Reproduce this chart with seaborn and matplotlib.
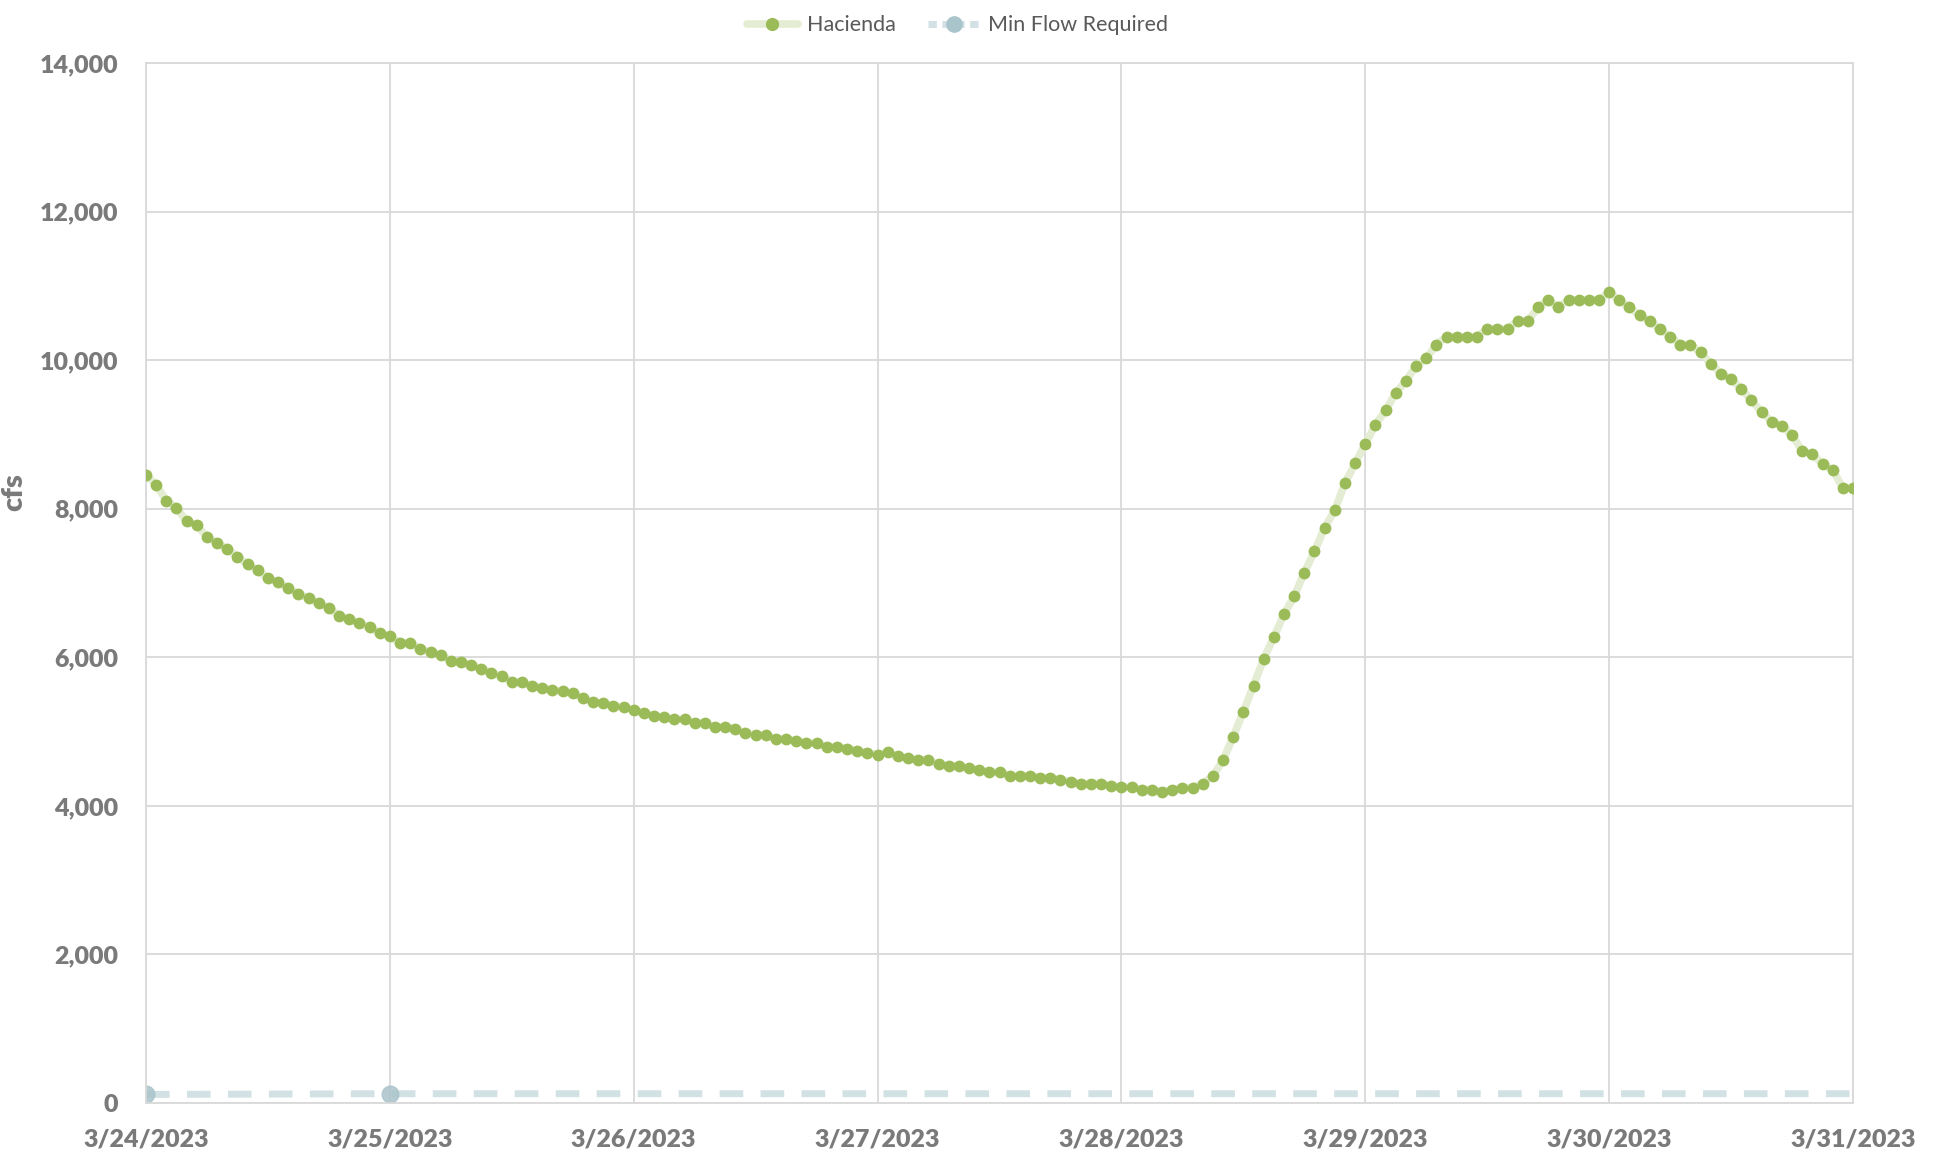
import numpy as np
import pandas as pd
import matplotlib
matplotlib.use("Agg")
import matplotlib.pyplot as plt
import seaborn as sns
from matplotlib.lines import Line2D
from matplotlib.ticker import FuncFormatter

# ---------------- data (hourly readings, cfs) ----------------
day_0324 = [8460, 8320, 8110, 8010, 7830, 7775, 7620, 7540, 7460, 7355, 7250, 7170,
            7065, 7010, 6930, 6855, 6800, 6725, 6665, 6560, 6510, 6460, 6405, 6325]
day_0325 = [6280, 6195, 6190, 6115, 6065, 6035, 5950, 5930, 5900, 5845, 5795, 5745,
            5670, 5670, 5615, 5585, 5560, 5540, 5515, 5450, 5400, 5380, 5350, 5325]
day_0326 = [5295, 5245, 5215, 5190, 5165, 5165, 5115, 5115, 5060, 5065, 5035, 4980,
            4955, 4955, 4900, 4900, 4875, 4845, 4845, 4795, 4795, 4770, 4745, 4715]
day_0327 = [4690, 4720, 4665, 4640, 4615, 4615, 4565, 4535, 4535, 4510, 4485, 4455,
            4455, 4405, 4405, 4405, 4380, 4380, 4350, 4325, 4300, 4300, 4300, 4270]
day_0328 = [4250, 4250, 4220, 4220, 4190, 4215, 4245, 4245, 4300, 4400, 4615, 4930,
            5270, 5615, 5980, 6270, 6580, 6820, 7140, 7425, 7745, 7980, 8345, 8610]
day_0329 = [8870, 9130, 9325, 9560, 9720, 9925, 10025, 10210, 10315, 10315, 10315, 10315,
            10420, 10420, 10420, 10525, 10525, 10710, 10810, 10710, 10810, 10810, 10810, 10810]
day_0330 = [10915, 10810, 10710, 10605, 10525, 10420, 10315, 10210, 10210, 10105, 9950, 9820,
            9745, 9615, 9460, 9305, 9170, 9120, 8990, 8780, 8730, 8605, 8520, 8285]
day_0331 = [8285]

hacienda = day_0324 + day_0325 + day_0326 + day_0327 + day_0328 + day_0329 + day_0330 + day_0331
times = pd.date_range("2023-03-24 00:00", periods=len(hacienda), freq="h")

day_labels = ["3/24/2023", "3/25/2023", "3/26/2023", "3/27/2023",
              "3/28/2023", "3/29/2023", "3/30/2023", "3/31/2023"]
min_flow = [115, 125, 125, 125, 125, 125, 125, 125]
day_dates = pd.to_datetime(["2023-03-24", "2023-03-25", "2023-03-26", "2023-03-27",
                            "2023-03-28", "2023-03-29", "2023-03-30", "2023-03-31"])

df_h = pd.DataFrame({"time": times, "flow": hacienda})
df_m = pd.DataFrame({"time": day_dates, "flow": min_flow})

# ---------------- style ----------------
sns.set_theme(style="white")
plt.rcParams["font.family"] = ["Lato", "DejaVu Sans"]

GRID = "#d9d9d9"
TXT = "#7a7a7a"
LINE_G = "#e4edd3"
MARK_G = "#9bbb59"
DASH_B = "#d2e1e4"
MARK_B = "#a9c4cb"

fig = plt.figure(figsize=(19.38, 11.56), dpi=100)
ax = fig.add_axes([146 / 1938, 1 - 1103 / 1156, (1853 - 146) / 1938, (1103 - 63) / 1156])

sns.lineplot(data=df_h, x="time", y="flow", ax=ax, color=LINE_G, lw=5.5,
             marker="o", markersize=8.5, markerfacecolor=MARK_G, markeredgecolor=MARK_G,
             markeredgewidth=0, zorder=3, legend=False)
sns.lineplot(data=df_m, x="time", y="flow", ax=ax, color=DASH_B, lw=5,
             dashes=False, zorder=2, legend=False)
ax.lines[-1].set_linestyle((0, (3.4, 2.5)))
ax.plot(df_m["time"].iloc[:2], df_m["flow"].iloc[:2], ls="none", marker="o",
        markersize=12, markerfacecolor=MARK_B, markeredgecolor=MARK_B, alpha=0.85,
        zorder=2, clip_on=True)

ax.set_xlim(day_dates[0], day_dates[-1])
ax.set_ylim(0, 14000)
ax.set_yticks(np.arange(0, 14001, 2000))
ax.yaxis.set_major_formatter(FuncFormatter(lambda v, p: f"{int(v):,}"))
ax.set_xticks(day_dates)
ax.set_xticklabels(day_labels)

ax.grid(True, color=GRID, lw=1.3)
for s in ax.spines.values():
    s.set_color(GRID)
    s.set_linewidth(1.3)
ax.tick_params(axis="both", length=0, colors=TXT, labelsize=18)
ax.tick_params(axis="x", pad=18)
ax.tick_params(axis="y", pad=20)
for lab in ax.get_xticklabels() + ax.get_yticklabels():
    lab.set_fontweight("heavy")
    lab.set_color(TXT)

ax.set_xlabel("")
ax.set_ylabel("cfs", fontsize=21, fontweight="heavy", color=TXT)
ax.yaxis.set_label_coords(-0.0697, 0.587)

handles = [
    Line2D([], [], color=LINE_G, lw=5.5, marker="o", markersize=8.5,
           markerfacecolor=MARK_G, markeredgecolor=MARK_G),
    Line2D([], [], color=DASH_B, lw=5, ls=(0, (1.2, 0.8)), marker="o", markersize=11,
           markerfacecolor=MARK_B, markeredgecolor=MARK_B),
]
fig.legend(handles, ["Hacienda", "Min Flow Required"], loc="center",
           bbox_to_anchor=(0.494, 0.978), ncol=2, frameon=False,
           fontsize=15.5, labelcolor="#595959", handlelength=2.4, columnspacing=1.5,
           handletextpad=0.4)

fig.savefig("out.png", dpi=100)
